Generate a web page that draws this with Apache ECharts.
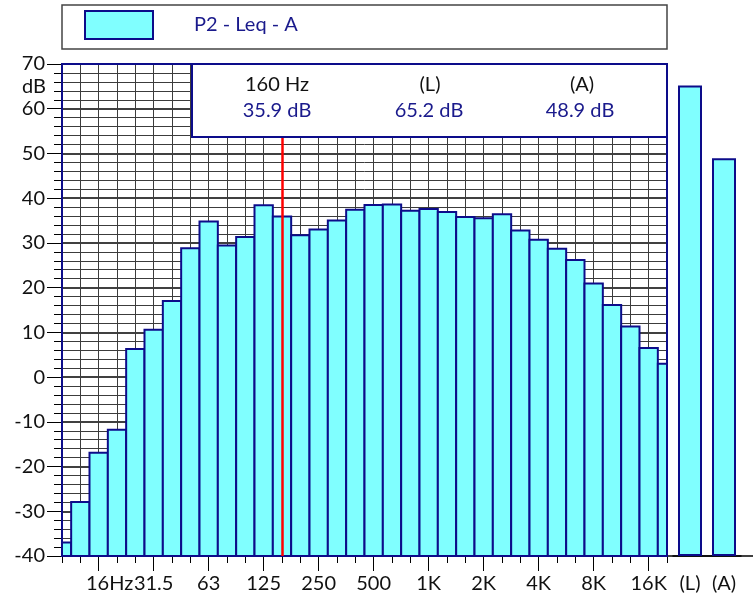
<!DOCTYPE html>
<html>
<head>
<meta charset="utf-8">
<script src="https://cdn.jsdelivr.net/npm/echarts@6/dist/echarts.min.js"></script>
<style>
  html, body { margin: 0; padding: 0; background: #fff; }
  #chart { width: 753px; height: 601px; }
</style>
</head>
<body>
<div id="chart"></div>
<script>
// 1/3 octave bands, 10 Hz .. 20 kHz
const bands = ['10', '12.5', '16', '20', '25', '31.5', '40', '50', '63', '80', '100', '125',
  '160', '200', '250', '315', '400', '500', '630', '800', '1K', '1.25K', '1.6K', '2K',
  '2.5K', '3.15K', '4K', '5K', '6.3K', '8K', '10K', '12.5K', '16K', '20K'];
const levels = [-37.0, -27.9, -16.9, -11.8, 6.3, 10.6, 17.0, 28.8, 34.8, 29.4, 31.3, 38.4,
  35.9, 31.7, 33.0, 35.0, 37.4, 38.5, 38.6, 37.2, 37.6, 36.9, 35.8, 35.5,
  36.4, 32.8, 30.7, 28.7, 26.2, 20.9, 16.1, 11.3, 6.5, 3.0];
const octaveLabels = ['16', '31.5', '63', '125', '250', '500', '1K', '2K', '4K', '8K', '16K'];
const totalNames = ['(L)', '(A)'];
const totalLevels = [65.2, 48.9];
const cursorBand = '160';
const seriesName = 'P2 - Leq - A';

const yMin = -40; // bars start at the bottom of the axis, so values are shifted by this
const yMax = 70;

const NAVY = '#0c0c8a';
const FILL = '#80ffff';
const FONT = 'Lato';

const chart = echarts.init(document.getElementById('chart'));
const cursorIdx = bands.indexOf(cursorBand);
const isOctave = (i, v) => octaveLabels.indexOf(v) >= 0;
const shift = v => v - yMin;

const valueAxis = (grid, show) => ({
  type: 'value',
  gridIndex: grid,
  min: 0,
  max: yMax - yMin,
  interval: 10,
  show: show,
  axisLine: { show: true, lineStyle: { color: NAVY, width: 2 } },
  axisTick: { show: true, length: 15, lineStyle: { color: '#000' } },
  minorTick: { show: true, splitNumber: 5, length: 8, lineStyle: { color: '#000' } },
  axisLabel: {
    margin: 17, fontSize: 20, fontFamily: FONT, color: '#111',
    formatter: v => String(v + yMin)
  },
  splitLine: { show: true, lineStyle: { color: '#000', width: 1.5 } },
  minorSplitLine: { show: true, lineStyle: { color: '#3c3c3c', width: 1 } }
});

// bars centred on each band, cut at the plot edges (half bars at 10 Hz and 20 kHz)
function renderBand(params, api) {
  const idx = api.value(0);
  const top = api.coord([idx, api.value(1)]);
  const base = api.coord([idx, 0]);
  const w = api.size([1, 0])[0];
  const cs = params.coordSys;
  const rect = echarts.graphic.clipRectByRect(
    { x: top[0] - w / 2, y: top[1], width: w, height: base[1] - top[1] },
    { x: cs.x, y: cs.y, width: cs.width, height: cs.height }
  );
  if (!rect) return;
  return {
    type: 'rect',
    shape: rect,
    style: { fill: FILL, stroke: NAVY, lineWidth: 2 }
  };
}

chart.setOption({
  animation: false,
  textStyle: { fontFamily: FONT },
  legend: {
    data: [seriesName],
    left: 84, top: 10, padding: 0,
    itemWidth: 68, itemHeight: 28,
    icon: 'rect',
    itemStyle: { color: FILL, borderColor: NAVY, borderWidth: 2 },
    textStyle: { fontSize: 20, color: '#1a1a8c', fontFamily: FONT, padding: [0, 0, 0, 36] }
  },
  grid: [
    { left: 62, right: 86, top: 64, bottom: 45 },
    { left: 673, width: 68, top: 64, bottom: 45 }
  ],
  xAxis: [
    {
      // every band: short tick + vertical grid line
      type: 'category', gridIndex: 0, data: bands, boundaryGap: false,
      axisLine: { lineStyle: { color: '#000', width: 1.5 } },
      axisTick: { interval: 0, length: 7, lineStyle: { color: '#000' } },
      axisLabel: { show: false },
      splitLine: { show: true, interval: 0, lineStyle: { color: '#3c3c3c', width: 1 } }
    },
    {
      // octave bands: long tick + label
      type: 'category', gridIndex: 0, data: bands, boundaryGap: false, position: 'bottom',
      axisLine: { show: false },
      axisTick: { interval: isOctave, length: 15, lineStyle: { color: '#000' } },
      axisLabel: {
        interval: isOctave, margin: 18, fontSize: 20, fontFamily: FONT, color: '#111',
        formatter: v => v === '16' ? '{pad|}16Hz' : v,
        rich: { pad: { width: 22 } }
      },
      splitLine: { show: false }
    },
    {
      type: 'category', gridIndex: 1, data: totalNames,
      axisLine: { lineStyle: { color: '#000', width: 1.5 } },
      axisTick: { show: false },
      axisLabel: { margin: 18, fontSize: 20, fontFamily: FONT, color: '#111', interval: 0 },
      splitLine: { show: false }
    }
  ],
  yAxis: [valueAxis(0, true), valueAxis(1, false)],
  series: [
    {
      name: seriesName,
      type: 'custom',
      xAxisIndex: 0, yAxisIndex: 0,
      data: levels.map((v, i) => [i, shift(v)]),
      encode: { x: 0, y: 1 },
      renderItem: renderBand,
      itemStyle: { color: FILL, borderColor: NAVY, borderWidth: 2 }
    },
    {
      name: 'cursor',
      type: 'line',
      xAxisIndex: 0, yAxisIndex: 0,
      data: [],
      markLine: {
        silent: true,
        symbol: 'none',
        label: { show: false },
        lineStyle: { color: '#ff0000', width: 2.5, type: 'solid' },
        data: [{ xAxis: cursorBand }]
      }
    },
    {
      name: 'totals',
      type: 'bar',
      xAxisIndex: 2, yAxisIndex: 1,
      data: totalLevels.map(shift),
      barWidth: 24,
      itemStyle: { color: FILL, borderColor: NAVY, borderWidth: 2 }
    }
  ],
  graphic: [
    // legend frame
    { type: 'rect', z: 0, shape: { x: 62, y: 5, width: 605, height: 44 },
      style: { fill: 'none', stroke: '#444', lineWidth: 1.5 } },
    // plot frame (top, left, right)
    { type: 'polyline', z: 50, shape: { points: [[62, 556], [62, 64], [667, 64], [667, 556]] },
      style: { fill: 'none', stroke: NAVY, lineWidth: 2 } },
    // baseline running on under the totals
    { type: 'line', z: 0, shape: { x1: 666, y1: 556, x2: 753, y2: 556 },
      style: { stroke: '#000', lineWidth: 1.5 } },
    // unit
    { type: 'text', z: 50, x: 46, y: 87,
      style: { text: 'dB', fontSize: 20, fontFamily: FONT, fill: '#111', align: 'right', verticalAlign: 'middle' } },
    // cursor readout box
    { type: 'rect', z: 100, shape: { x: 192, y: 64, width: 475, height: 73 },
      style: { fill: '#fff', stroke: NAVY, lineWidth: 2 } },
    { type: 'text', z: 101, x: 277, y: 85,
      style: { text: cursorBand + ' Hz', fontSize: 20, fontFamily: FONT, fill: '#111', align: 'center', verticalAlign: 'middle' } },
    { type: 'text', z: 101, x: 277, y: 111,
      style: { text: levels[cursorIdx].toFixed(1) + ' dB', fontSize: 20, fontFamily: FONT, fill: '#1a1a8c', align: 'center', verticalAlign: 'middle' } },
    { type: 'text', z: 101, x: 430, y: 85,
      style: { text: totalNames[0], fontSize: 20, fontFamily: FONT, fill: '#111', align: 'center', verticalAlign: 'middle' } },
    { type: 'text', z: 101, x: 429, y: 111,
      style: { text: totalLevels[0].toFixed(1) + ' dB', fontSize: 20, fontFamily: FONT, fill: '#1a1a8c', align: 'center', verticalAlign: 'middle' } },
    { type: 'text', z: 101, x: 582, y: 85,
      style: { text: totalNames[1], fontSize: 20, fontFamily: FONT, fill: '#111', align: 'center', verticalAlign: 'middle' } },
    { type: 'text', z: 101, x: 580, y: 111,
      style: { text: totalLevels[1].toFixed(1) + ' dB', fontSize: 20, fontFamily: FONT, fill: '#1a1a8c', align: 'center', verticalAlign: 'middle' } }
  ]
});
</script>
</body>
</html>
